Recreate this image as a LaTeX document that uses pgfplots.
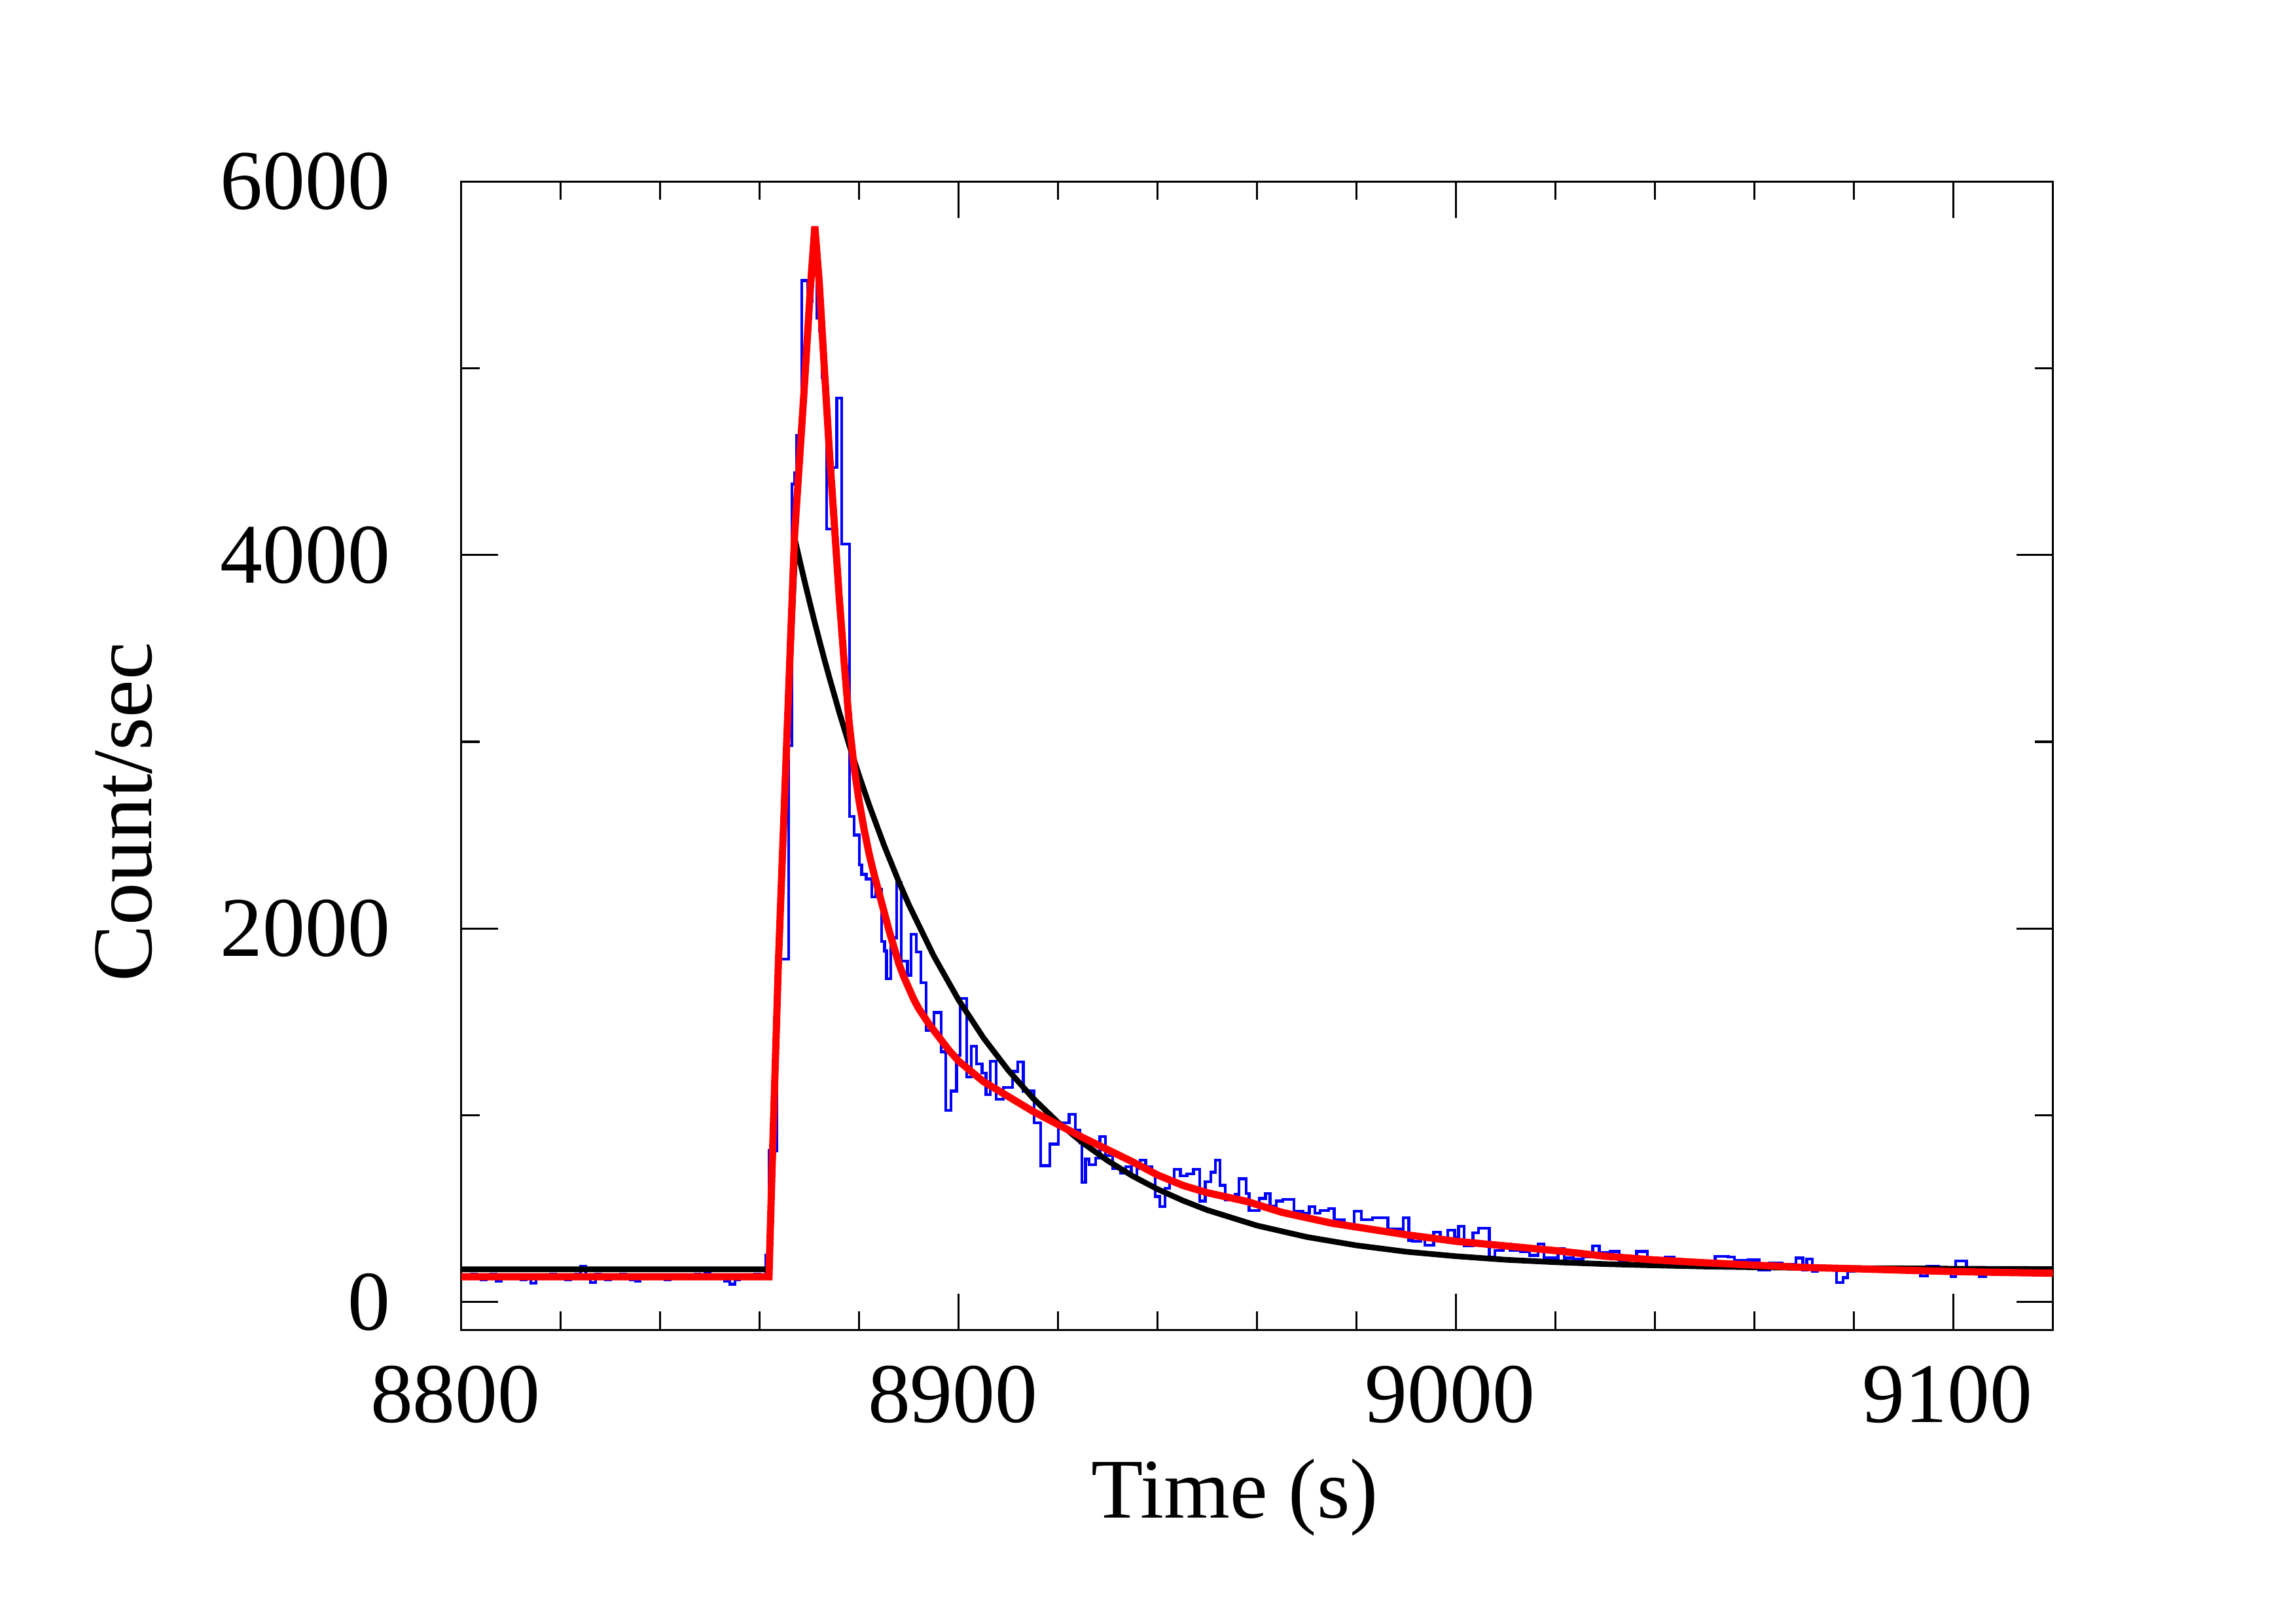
\documentclass[border=0pt]{standalone}
\usepackage{pgfplots}
\pgfplotsset{compat=1.18}
\usepackage{fontspec}
\setmainfont{Liberation Serif}
\begin{document}
\begin{tikzpicture}
\path[use as bounding box] (-3.15,-2.00) rectangle (12.53,9.08);
\begin{axis}[
  at={(0,0)}, anchor=south west,
  scale only axis, width=10.87cm, height=7.84cm,
  xmin=8800, xmax=9120, ymin=-150, ymax=6000,
  xtick={8800,8900,9000,9100}, minor x tick num=4,
  ytick={0,2000,4000,6000}, minor y tick num=1,
  scaled ticks=false,
  /pgf/number format/assume math mode=true,
  /pgf/number format/set thousands separator={},
  tick align=inside,
  major tick length=0.25cm, minor tick length=0.125cm,
  every tick/.style={black, line width=0.4pt},
  axis line style={line width=0.4pt},
  tick label style={font=\fontsize{16.5}{19.8}\selectfont},
  xticklabel style={yshift=-0.12cm, xshift=-0.04cm},
  yticklabel style={xshift=-0.36cm},
  label style={font=\fontsize{16.5}{19.8}\selectfont},
  xlabel={Time (s)}, ylabel={Count/sec},
  xlabel style={at={(axis description cs:0.486,-0.146)}, anchor=center},
  ylabel style={at={(axis description cs:-0.212,0.451)}, anchor=center},
  clip=true,
]
% blue light curve (step histogram)
\addplot[const plot mark left, blue, line width=0.55pt] coordinates {
(8800,125)(8801,140)(8802,150)(8803,130)(8804,120)(8805,145)(8806,150)(8807,110)(8808,135)(8809,125)
(8810,140)(8811,130)(8812,120)(8813,145)(8814,100)(8815,130)(8816,140)(8817,125)(8818,150)(8819,135)
(8820,145)(8821,120)(8822,135)(8823,150)(8824,190)(8825,130)(8826,105)(8827,150)(8828,140)(8829,120)
(8830,130)(8831,125)(8832,150)(8833,135)(8834,120)(8835,110)(8836,140)(8837,130)(8838,125)(8839,145)
(8840,135)(8841,120)(8842,130)(8843,140)(8844,125)(8845,135)(8846,130)(8847,150)(8848,145)(8849,155)
(8850,140)(8851,130)(8852,125)(8853,110)(8854,95)(8855,120)(8856,130)(8857,140)(8858,125)(8859,150)
(8860,135)(8861.2,250)(8861.9,810)(8863.4,1835)(8865.8,2980)(8866.5,4380)(8867,4440)(8867.4,4640)
(8868.5,5470)(8869.6,5360)(8870.6,5500)(8871.5,5270)(8872,5200)(8872.5,4950)(8873.5,4140)(8874.8,4470)
(8875.5,4840)(8876.5,4060)(8878.1,2600)(8879,2500)(8880,2340)(8880.5,2290)(8881.4,2265)(8882.5,2170)
(8883.4,2210)(8884.5,1930)(8885.1,1880)(8885.5,1730)(8886.4,1950)(8887.5,2245)(8888.5,1825)(8889.7,1750)
(8890.4,1970)(8891.5,1875)(8892.4,1710)(8893.5,1455)(8895,1550)(8896.5,1340)(8897.4,1025)(8898.5,1130)
(8899.6,1320)(8900.3,1625)(8901.6,1205)(8902.5,1370)(8903.6,1275)(8904.7,1225)(8905.5,1110)(8906.4,1290)
(8907.5,1085)(8909,1150)(8910.8,1235)(8911.9,1285)(8913,1130)(8915.2,960)(8916.5,730)(8918.3,845)
(8920,960)(8922.2,1005)(8923.5,920)(8924.4,850)(8924.8,640)(8925.5,765)(8926.2,735)(8927.5,770)
(8928.4,885)(8929.5,785)(8931,715)(8932.5,690)(8933.6,725)(8934.7,675)(8935.8,715)(8936.5,760)
(8937.6,725)(8938.9,690)(8939.5,565)(8940.4,510)(8941.5,610)(8942.4,655)(8943.3,710)(8944.6,675)
(8945.9,685)(8947.2,710)(8948.5,540)(8949.6,645)(8950.7,695)(8951.6,760)(8952.5,625)(8953.6,545)
(8955.6,575)(8956.4,660)(8957.8,580)(8958.4,490)(8960.4,555)(8961.7,580)(8962.6,515)(8963.9,540)
(8965.2,550)(8967.4,485)(8969.2,475)(8970.5,510)(8971.6,475)(8972.7,490)(8974.4,500)(8975.5,440)
(8977.5,405)(8979.5,485)(8981,440)(8983.2,450)(8986.3,390)(8989.4,450)(8990.5,330)(8991.3,325)
(8992.9,340)(8993.7,305)(8995.5,375)(8996.8,340)(8998.3,385)(8999.7,345)(9000.5,405)(9001.6,300)
(9003.4,370)(9004.5,395)(9006.7,240)(9007.8,275)(9009.5,310)(9010.9,275)(9013,270)(9014.8,250)
(9016.5,310)(9017.7,235)(9020.5,285)(9021.8,235)(9023.6,228)(9025.5,240)(9027.5,300)(9028.8,265)
(9031,270)(9032.8,215)(9034.5,225)(9036.3,270)(9038.5,215)(9040.3,220)(9042,240)(9043.8,210)
(9046,200)(9048,215)(9050,205)(9052.1,245)(9054.7,240)(9056,222)(9058.7,225)(9060.9,170)
(9063,210)(9065.5,200)(9068.3,235)(9069.7,170)(9070.5,230)(9071.6,165)(9072.7,185)(9076.5,105)
(9077.8,130)(9078.7,165)(9080,175)(9082,180)(9084,170)(9086,185)(9088,175)(9090,180)(9092,170)
(9093.4,140)(9094.7,190)(9097,185)(9099.5,135)(9100.4,220)(9102.6,155)(9105.2,135)(9106.5,170)
(9110,165)(9113,175)(9116,165)(9120,165)
};
% black model
\addplot[black, line width=1.1pt] coordinates {
(8800,175)(8861.87,175)(8862.44,673)(8863.76,1816)(8865.38,2959)(8867.2,4070)
(8868,3977)(8869,3863)(8870,3753)(8871,3646)(8872,3543)(8873,3442)(8874,3345)(8876,3158)
(8878,2983)(8880,2818)(8882,2662)(8885,2446)(8888,2249)(8890,2127)(8895,1853)(8900,1617)
(8905,1414)(8910,1240)(8915,1090)(8920,961)(8925,851)(8930,756)(8935,674)(8940,604)
(8945,544)(8950,492)(8960,409)(8970,348)(8980,303)(8990,269)(9000,245)(9010,226)
(9020,213)(9030,203)(9040,196)(9050,190)(9060,186)(9070,183)(9080,181)(9090,180)
(9100,178)(9110,177)(9120,176)
};
% red model
\addplot[red, line width=1.4pt] coordinates {
(8800,135)(8861.87,135)(8862.44,673)(8863.76,1816)(8865.38,2959)(8867.0,4102)(8868.89,4865)
(8870.21,5436)(8871.09,5760)(8872,5450)(8873,5000)(8874,4560)(8875,4170)(8876,3770)(8877,3420)
(8878,3100)(8879,2860)(8880,2680)(8881,2530)(8882,2400)(8883,2290)(8884,2190)(8885,2090)
(8886,1990)(8887,1900)(8888,1810)(8889,1740)(8890,1680)(8891,1620)(8892,1570)(8894,1490)
(8896,1420)(8898,1350)(8900,1290)(8905,1180)(8910,1100)(8915,1020)(8920,950)(8925,880)
(8930,815)(8935,750)(8940,680)(8945,625)(8950,585)(8958,538)(8965,480)(8975,422)
(8990,360)(9000,325)(9010,300)(9020,275)(9030,245)(9040,225)(9050,210)(9058,200)
(9070,185)(9080,178)(9090,170)(9100,163)(9110,158)(9120,154)
};
\end{axis}
\end{tikzpicture}
\end{document}
